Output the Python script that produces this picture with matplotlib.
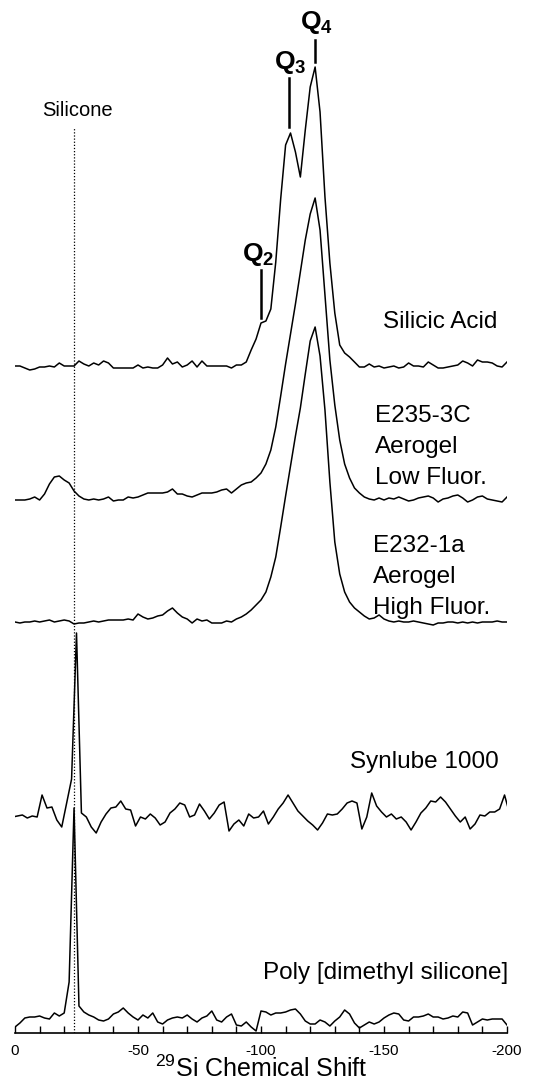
import numpy as np
import matplotlib
matplotlib.use("Agg")
import matplotlib.pyplot as plt
from matplotlib.ticker import MultipleLocator

plt.rcParams['font.family'] = ['Liberation Sans', 'DejaVu Sans']
plt.rcParams['mathtext.fontset'] = 'custom'
plt.rcParams['mathtext.rm'] = 'Liberation Sans'
plt.rcParams['mathtext.bf'] = 'Liberation Sans:bold'
plt.rcParams['axes.unicode_minus'] = False

# chemical shift grids (ppm)
shift = np.arange(0, -201, -2)          # 0 .. -200
shift_odd = np.arange(1, -202, -2)      # +1 .. -201 (Synlube)

# vertical offsets of the stacked spectra
offsets = {"silicic": 666, "e235": 533, "e232": 411, "synlube": 218, "poly": 11}

silicic = [1, 1, -1, -3, -2, 0, 0, 1, 0, 4,
           1, 1, 1, 6, 3, 1, 4, 2, 6, 4,
           -1, -1, -1, -1, -1, 2, -1, 0, -1, -1,
           2, 9, 3, 5, 0, 2, 6, 0, 6, 1,
           1, 1, 1, 1, -1, 2, 2, 5, 17, 28,
           44, 46, 58, 105, 168, 222, 234, 215, 190, 237,
           280, 300, 255, 170, 104, 54, 22, 14, 10, 5,
           0, 0, 3, 0, 1, -1, 0, 1, -1, 0,
           4, 1, 1, 0, 5, 2, -1, -1, 0, 1,
           2, 6, 4, 1, 7, 5, 5, 4, 1, 0,
           5]

e235 = [0, 0, 0, 1, 3, 0, 6, 16, 23, 24,
        20, 17, 9, 4, 1, 0, 1, 0, 1, 3,
        -1, 0, 0, 3, 2, 3, 5, 7, 7, 7,
        7, 8, 11, 6, 6, 4, 3, 5, 7, 7,
        7, 8, 10, 11, 7, 11, 15, 17, 18, 22,
        27, 36, 50, 73, 104, 136, 166, 196, 228, 260,
        286, 302, 270, 205, 140, 95, 60, 36, 22, 12,
        7, 3, 1, 0, 2, 0, 2, 1, 3, 1,
        -1, 0, 2, 3, 4, 2, -2, 1, 2, 4,
        5, 2, -2, 0, 3, 4, 1, 0, -1, -2,
        3]

e232 = [0, -1, 0, 0, 1, 0, 1, 2, 0, 1,
        2, 1, -2, -1, -1, 0, 1, 0, 1, 2,
        2, 2, 2, 3, 2, 8, 5, 3, 4, 6,
        7, 11, 14, 9, 5, 3, -1, 3, 1, 2,
        -1, -1, -1, 1, 0, 3, 5, 8, 12, 17,
        22, 30, 45, 65, 95, 126, 156, 186, 214, 248,
        281, 295, 266, 212, 140, 80, 48, 30, 20, 14,
        10, 6, 3, 4, 7, 3, 1, 0, 1, 0,
        0, 1, 0, -1, -2, -3, -1, -1, 0, 0,
        -1, 0, -1, 0, -1, 0, 0, 0, 1, 0,
        0]

synlube = [-2, -1, 0, -3, -1, -2, 20, 7, 8, -5,
           -12, 12, 36, 182, 2, -2, -12, -18, -7, 1,
           7, 8, 14, 6, 5, -11, -2, -4, 1, -3,
           -10, -7, 2, 6, 12, 10, -2, 0, 11, 4,
           -4, 2, 10, 13, -16, -9, -5, -11, 1, -3,
           -2, 4, -9, -2, 6, 12, 20, 12, 4, -1,
           -6, -10, -15, -8, 1, 0, 1, 6, 12, 14,
           12, -14, -2, 22, 9, 3, -2, 1, -4, -2,
           -7, -15, -7, 2, 7, 14, 13, 18, 13, 6,
           -1, -7, -2, -14, -9, 0, -1, 3, 3, 6,
           20, 2]

poly = [-5, -1, 4, 5, 5, 6, 4, 3, 9, 6,
        9, 40, 214, 16, 10, 7, 5, 2, 1, 3,
        8, 10, 14, 9, 5, 2, 7, 4, 9, 0,
        -2, 2, 4, 5, 4, 7, 3, 0, 4, 6,
        11, 2, 0, 5, 8, -3, -4, 0, -5, -9,
        11, 10, 7, 9, 9, 10, 12, 13, 8, 1,
        -2, -2, 2, 0, -4, 1, 5, 12, 8, -1,
        -6, -3, 0, -2, 0, 4, 7, 9, 8, 2,
        1, 5, 5, 6, 8, 5, 5, 3, 4, 6,
        5, 10, 9, -3, 0, 3, 2, 3, 3, 3,
        -3]

fig = plt.figure(figsize=(5.57, 10.83), dpi=100)
ax = fig.add_axes([15 / 557, 50 / 1083, 492 / 557, 1033 / 1083])

lw = 1.1
ax.plot(shift, np.array(silicic) + offsets["silicic"], color='black', lw=lw)
ax.plot(shift, np.array(e235) + offsets["e235"], color='black', lw=lw)
ax.plot(shift, np.array(e232) + offsets["e232"], color='black', lw=lw)
ax.plot(shift_odd, np.array(synlube) + offsets["synlube"], color='black', lw=lw)
ax.plot(shift, np.array(poly) + offsets["poly"], color='black', lw=lw)

# silicone reference line
ax.plot([-24, -24], [0, 905], color='black', lw=0.9, linestyle=(0, (1, 1.5)))
ax.text(-25.5, 923, "Silicone", fontsize=14.5, ha='center', va='center')

# Q-site markers
ax.plot([-122, -122], [971, 993], color='black', lw=1.8)
ax.plot([-111.5, -111.5], [906, 955], color='black', lw=1.8)
ax.plot([-100, -100], [715, 763], color='black', lw=1.8)
ax.text(-122.5, 1011, r'$\mathbf{Q_4}$', fontsize=19, ha='center', va='center')
ax.text(-112, 970, r'$\mathbf{Q_3}$', fontsize=19, ha='center', va='center')
ax.text(-99, 778, r'$\mathbf{Q_2}$', fontsize=19, ha='center', va='center')

# sample labels
fs = 17.5
ax.text(-149.6, 711, "Silicic Acid", fontsize=fs, ha='left', va='center')
ax.text(-146.3, 586, "E235-3C\nAerogel\nLow Fluor.", fontsize=fs, ha='left', va='center', linespacing=1.55)
ax.text(-145.5, 456, "E232-1a\nAerogel\nHigh Fluor.", fontsize=fs, ha='left', va='center', linespacing=1.55)
ax.text(-136.2, 271, "Synlube 1000", fontsize=fs, ha='left', va='center')
ax.text(-100.8, 60, "Poly [dimethyl silicone]", fontsize=fs, ha='left', va='center')

ax.set_xlim(0, -200)
ax.set_ylim(0, 1033)
for s in ['left', 'right', 'top']:
    ax.spines[s].set_visible(False)
ax.spines['bottom'].set_linewidth(1.2)
ax.set_yticks([])
ax.xaxis.set_major_locator(MultipleLocator(50))
ax.xaxis.set_minor_locator(MultipleLocator(10))
ax.tick_params(axis='x', which='both', direction='in', length=5, width=1, labelsize=11, pad=8)
ax.set_xlabel(r'$^{29}$Si Chemical Shift', fontsize=18, labelpad=-1.5)

fig.savefig("out.png", dpi=100)
